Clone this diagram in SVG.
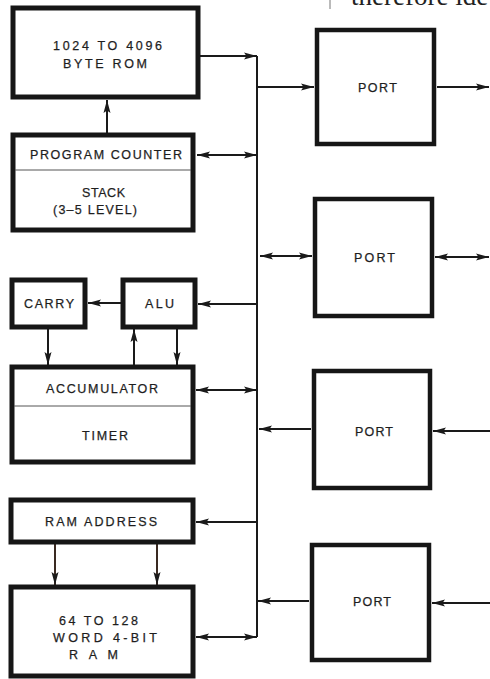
<svg xmlns="http://www.w3.org/2000/svg" width="490" height="679" viewBox="0 0 490 679">
<style>
.box{fill:#fff;stroke:#161616;stroke-width:5}
.port{fill:#fff;stroke:#161616;stroke-width:4.5}
.div{stroke:#555;stroke-width:1}
.lbl{font-family:"Liberation Sans",Arial,sans-serif;font-size:12.5px;fill:#1e1e1e;stroke:#1e1e1e;stroke-width:0.25}
.c{fill:none;stroke:#1a1a1a;stroke-width:2}
.cb{fill:none;stroke:#3a2a22;stroke-width:2}
</style>
<defs>
<marker id="ah" markerUnits="userSpaceOnUse" markerWidth="14" markerHeight="9" refX="13" refY="4.5" orient="auto-start-reverse">
<path d="M0,1 L13,4.5 L0,8 L2.5,4.5 z" fill="#1a1a1a"/>
</marker>
</defs>
<rect width="490" height="679" fill="#fff"/>
<g id="pagetext">
<line x1="330" y1="0" x2="330" y2="9" stroke="#777" stroke-width="1"/>
<text x="351" y="5" font-family="'Liberation Serif','Times New Roman',serif" font-size="27" fill="#222">therefore ide</text>
</g>
<g id="connectors">
<line class="c" x1="257" y1="56" x2="257" y2="637"/>
<line class="c" x1="200" y1="56" x2="257" y2="56" marker-end="url(#ah)"/>
<line class="c" x1="107" y1="133" x2="107" y2="100" marker-end="url(#ah)"/>
<line class="c" x1="197" y1="155" x2="257" y2="155" marker-start="url(#ah)" marker-end="url(#ah)"/>
<line class="c" x1="257" y1="304" x2="198" y2="304" marker-end="url(#ah)"/>
<line class="c" x1="121" y1="303" x2="88" y2="303" marker-end="url(#ah)"/>
<line class="c" x1="48" y1="329" x2="48" y2="365" marker-end="url(#ah)"/>
<line class="c" x1="134" y1="365" x2="134" y2="329" marker-end="url(#ah)"/>
<line class="c" x1="177" y1="329" x2="177" y2="365" marker-end="url(#ah)"/>
<line class="c" x1="196" y1="390" x2="257" y2="390" marker-start="url(#ah)" marker-end="url(#ah)"/>
<line class="c" x1="257" y1="522" x2="196" y2="522" marker-end="url(#ah)"/>
<line class="cb" x1="55" y1="544" x2="55" y2="585" marker-end="url(#ah)"/>
<line class="cb" x1="157" y1="544" x2="157" y2="585" marker-end="url(#ah)"/>
<line class="c" x1="196" y1="637" x2="257" y2="637" marker-start="url(#ah)" marker-end="url(#ah)"/>
<line class="c" x1="257" y1="87" x2="314" y2="87" marker-end="url(#ah)"/>
<line class="c" x1="437" y1="87" x2="489" y2="87" marker-end="url(#ah)"/>
<line class="c" x1="260" y1="256" x2="312" y2="256" marker-start="url(#ah)" marker-end="url(#ah)"/>
<line class="c" x1="435" y1="257" x2="489" y2="257" marker-start="url(#ah)" marker-end="url(#ah)"/>
<line class="c" x1="311" y1="429" x2="259" y2="429" marker-end="url(#ah)"/>
<line class="c" x1="490" y1="431" x2="433" y2="431" marker-end="url(#ah)"/>
<line class="c" x1="309" y1="601" x2="258" y2="601" marker-end="url(#ah)"/>
<line class="c" x1="490" y1="603" x2="432" y2="603" marker-end="url(#ah)"/>
</g>
<g id="rom">
<rect class="box" x="13" y="8" width="185" height="89"/>
<text class="lbl" x="53" y="50" textLength="109" lengthAdjust="spacing">1024 TO 4096</text>
<text class="lbl" x="63" y="68" textLength="84" lengthAdjust="spacing">BYTE ROM</text>
</g>
<g id="pc_stack">
<rect class="box" x="13" y="135" width="180" height="95"/>
<line class="div" x1="15" y1="170" x2="191" y2="170"/>
<text class="lbl" x="30" y="159" textLength="152" lengthAdjust="spacing">PROGRAM COUNTER</text>
<text class="lbl" x="82" y="197" textLength="43" lengthAdjust="spacing">STACK</text>
<text class="lbl" x="53" y="214" textLength="84" lengthAdjust="spacing">(3–5 LEVEL)</text>
</g>
<g id="carry">
<rect class="box" x="12" y="280" width="73" height="47"/>
<text class="lbl" x="24" y="308" textLength="50" lengthAdjust="spacing">CARRY</text>
</g>
<g id="alu">
<rect class="box" x="123" y="280" width="72" height="47"/>
<text class="lbl" x="145" y="308" textLength="29" lengthAdjust="spacing">ALU</text>
</g>
<g id="acc_timer">
<rect class="box" x="12" y="367" width="181" height="95"/>
<line class="div" x1="14" y1="406" x2="191" y2="406"/>
<text class="lbl" x="46" y="393" textLength="112" lengthAdjust="spacing">ACCUMULATOR</text>
<text class="lbl" x="82" y="440" textLength="46" lengthAdjust="spacing">TIMER</text>
</g>
<g id="ram_address">
<rect class="box" x="11" y="500" width="182" height="42"/>
<text class="lbl" x="45" y="526" textLength="112" lengthAdjust="spacing">RAM ADDRESS</text>
</g>
<g id="ram">
<rect class="box" x="11" y="587" width="182" height="89"/>
<text class="lbl" x="59" y="625" textLength="79" lengthAdjust="spacing">64 TO 128</text>
<text class="lbl" x="53" y="642" textLength="104" lengthAdjust="spacing">WORD 4-BIT</text>
<text class="lbl" x="69" y="659" textLength="49" lengthAdjust="spacing">RAM</text>
</g>
<g id="port1">
<rect class="port" x="317" y="30" width="117" height="114"/>
<text class="lbl" x="358" y="92" textLength="39" lengthAdjust="spacing">PORT</text>
</g>
<g id="port2">
<rect class="port" x="315" y="199" width="117" height="117"/>
<text class="lbl" x="354" y="262" textLength="41" lengthAdjust="spacing">PORT</text>
</g>
<g id="port3">
<rect class="port" x="314" y="371" width="116" height="117"/>
<text class="lbl" x="355" y="436" textLength="38" lengthAdjust="spacing">PORT</text>
</g>
<g id="port4">
<rect class="port" x="312" y="545" width="117" height="115"/>
<text class="lbl" x="353" y="606" textLength="38" lengthAdjust="spacing">PORT</text>
</g>
</svg>
